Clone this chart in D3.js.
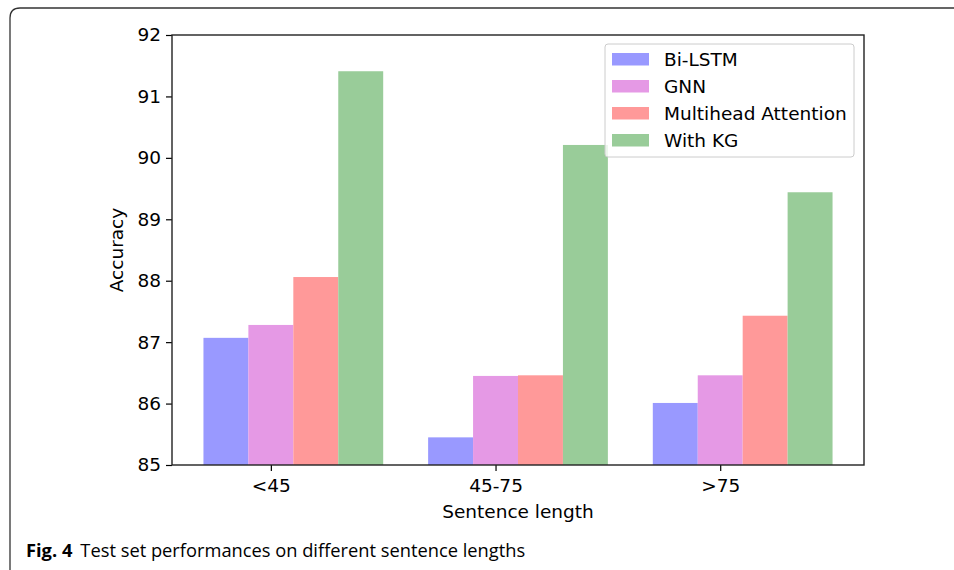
<!DOCTYPE html>
<html lang="en">
<head>
<meta charset="UTF-8">
<title>Sentence length accuracy</title>
<style>
  body { margin: 0; background: #fff; }
  svg text { font-family: "DejaVu Sans", sans-serif; fill: #000; }
  .cap text { font-family: "Open Sans", "Noto Sans", sans-serif; }
</style>
</head>
<body>
<script src="https://d3js.org/d3.v7.min.js"></script>
<script>
var categories = ["<45", "45-75", ">75"];
var models = ["Bi-LSTM", "GNN", "Multihead Attention", "With KG"];
var colors = ["#9999ff", "#e599e5", "#ff9999", "#99cc99"];
var biLstm = [87.07, 85.45, 86.01];
var gnn = [87.28, 86.45, 86.46];
var multihead = [88.06, 86.46, 87.43];
var withKg = [91.41, 90.21, 89.44];
var yTicks = [85, 86, 87, 88, 89, 90, 91, 92];
var series = [biLstm, gnn, multihead, withKg];

var W = 954, H = 570;
var plot = {left: 172, right: 864, top: 35, bottom: 465};
var barW = 0.2;
var fs = "18.5px";

var svg = d3.select("body").append("svg")
    .attr("width", W).attr("height", H);

// figure frame
svg.append("path")
    .attr("d", "M10,570 L10,18 Q10,8 20,8 L954,8")
    .attr("fill", "none").attr("stroke", "#333").attr("stroke-width", 1.3);

var x = d3.scaleLinear().domain([-0.44, 2.64]).range([plot.left, plot.right]);
var y = d3.scaleLinear().domain([85, 92]).range([plot.bottom, plot.top]);

// bars
series.forEach(function(vals, j) {
    svg.append("g").selectAll("rect")
        .data(vals)
        .enter()
        .append("rect")
        .attr("x", function(d, i) { return x(i + (j - 1) * barW - barW / 2); })
        .attr("width", x(barW) - x(0))
        .attr("y", function(d) { return y(d); })
        .attr("height", function(d) { return y(85) - y(d); })
        .attr("fill", colors[j]);
});

// axes
var yAxis = d3.axisLeft(y).tickValues(yTicks).tickSize(6).tickPadding(5).tickFormat(d3.format("d"));
var gy = svg.append("g").attr("transform", "translate(" + plot.left + ",0)").call(yAxis);
gy.select(".domain").remove();
gy.selectAll("text").style("font-size", fs);
gy.selectAll("line").attr("stroke-width", 1.2);

var xAxis = d3.axisBottom(x).tickValues([0, 1, 2]).tickSize(6).tickPadding(8)
    .tickFormat(function(d) { return categories[d]; });
var gx = svg.append("g").attr("transform", "translate(0," + plot.bottom + ")").call(xAxis);
gx.select(".domain").remove();
gx.selectAll("text").style("font-size", fs);
gx.selectAll("line").attr("stroke-width", 1.2);

svg.append("rect")
    .attr("x", plot.left).attr("y", plot.top)
    .attr("width", plot.right - plot.left).attr("height", plot.bottom - plot.top)
    .attr("fill", "none").attr("stroke", "#222").attr("stroke-width", 1.4);

// axis labels
svg.append("text")
    .attr("x", (plot.left + plot.right) / 2).attr("y", 518)
    .attr("text-anchor", "middle").style("font-size", fs)
    .text("Sentence length");
svg.append("text")
    .attr("transform", "translate(123," + ((plot.top + plot.bottom) / 2) + ") rotate(-90)")
    .attr("text-anchor", "middle").style("font-size", fs)
    .text("Accuracy");

// legend
var leg = svg.append("g").attr("transform", "translate(605,44)");
leg.append("rect")
    .attr("width", 249).attr("height", 113).attr("rx", 3)
    .attr("fill", "#fff").attr("fill-opacity", 0.8)
    .attr("stroke", "#cccccc").attr("stroke-width", 1);
models.forEach(function(m, j) {
    leg.append("rect")
        .attr("x", 7).attr("y", 9 + j * 27)
        .attr("width", 37).attr("height", 12.5)
        .attr("fill", colors[j]);
    leg.append("text")
        .attr("x", 59).attr("y", 15.5 + j * 27).attr("dy", "0.35em")
        .style("font-size", fs)
        .text(m);
});

// caption
var cap = svg.append("g").attr("class", "cap");
var t = cap.append("text").attr("x", 26).attr("y", 557).style("font-size", "18.3px");
t.append("tspan").style("font-weight", "bold").text("Fig. 4");
t.append("tspan").attr("dx", 8).text("Test set performances on different sentence lengths");
</script>
</body>
</html>
